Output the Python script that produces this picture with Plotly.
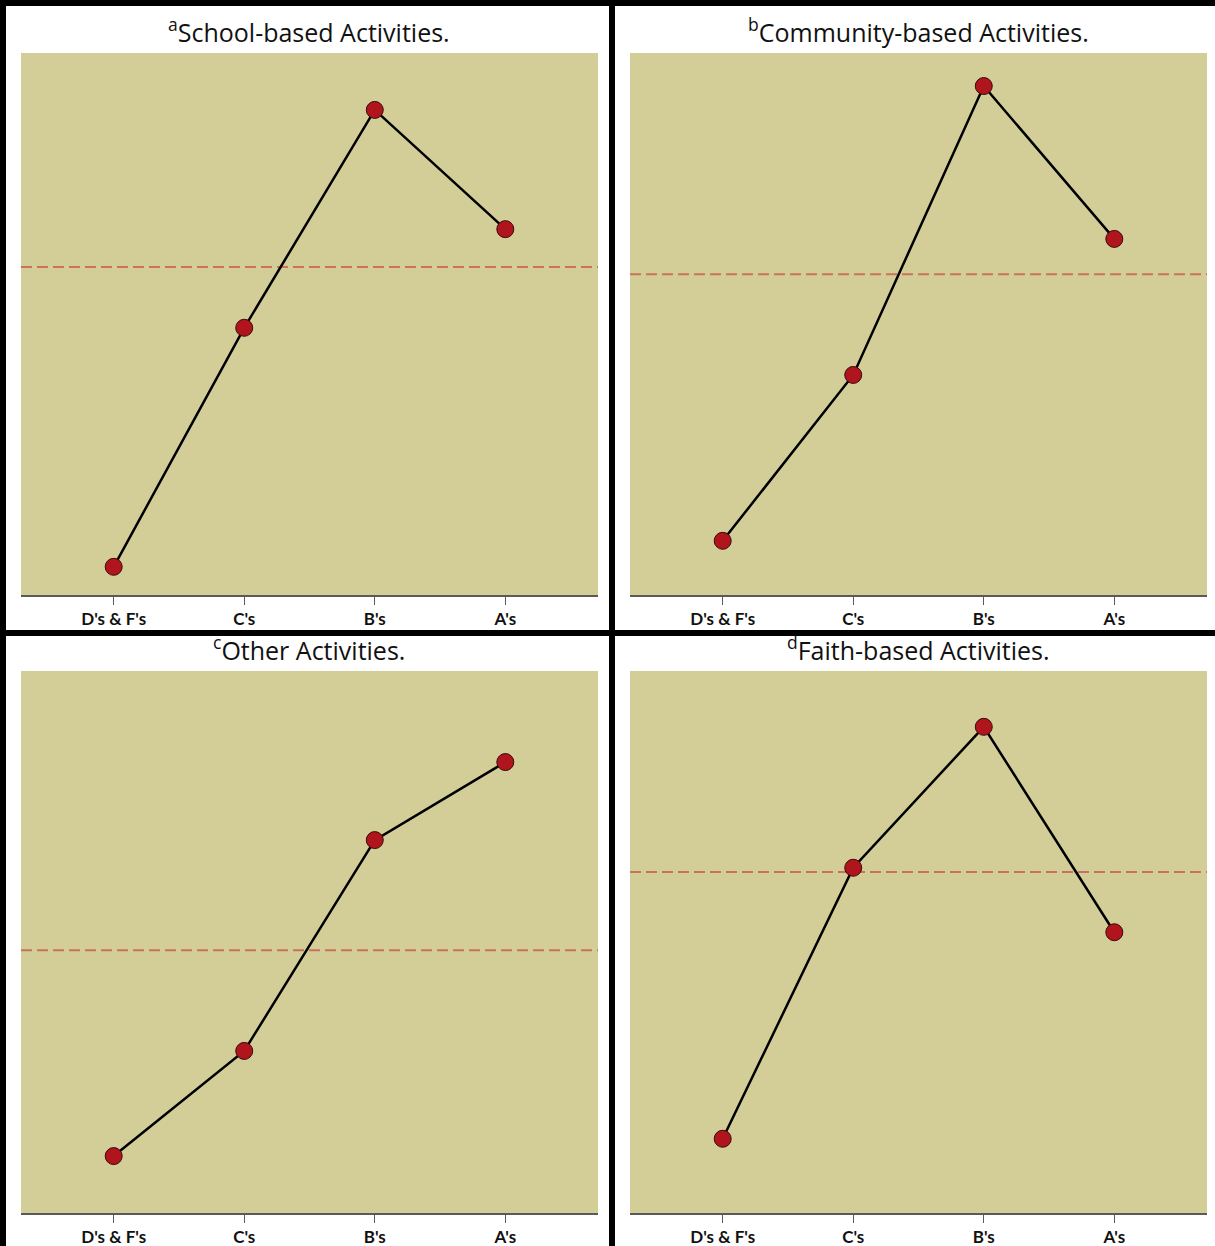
import plotly.graph_objects as go

W, H = 1215, 1246

categories = ["D's & F's", "C's", "B's", "A's"]
titles = ["<sup>a</sup>School-based Activities.",
          "<sup>b</sup>Community-based Activities.",
          "<sup>c</sup>Other Activities.",
          "<sup>d</sup>Faith-based Activities."]
school_vals = [5.2, 49.3, 89.5, 67.5]
community_vals = [10.0, 40.6, 93.9, 65.7]
other_vals = [10.5, 29.9, 68.8, 83.2]
faith_vals = [13.7, 63.7, 89.7, 51.8]
ref_lines = [60.5, 59.2, 48.5, 62.9]
series = [school_vals, community_vals, other_vals, faith_vals]

BG = "#D3CE98"
MARK = "#B0141C"
DASH = "#C9735C"

# panel pixel boxes (left, top, right, bottom)
boxes = [(21, 53, 598, 595), (630, 53, 1207, 595),
         (21, 671, 598, 1213), (630, 671, 1207, 1213)]

fig = go.Figure()
for i, (vals, box) in enumerate(zip(series, boxes)):
    n = i + 1
    xa = "x" if n == 1 else f"x{n}"
    ya = "y" if n == 1 else f"y{n}"
    fig.add_trace(go.Scatter(
        x=categories, y=vals, mode="lines+markers", xaxis=xa, yaxis=ya,
        line=dict(color="black", width=2.5),
        marker=dict(size=17, color=MARK, line=dict(color="#3a0a0a", width=1)),
        showlegend=False, hoverinfo="skip"))
    l, t, r, b = box
    xd = [l / W, r / W]
    yd = [1 - b / H, 1 - t / H]
    xkey = "xaxis" if n == 1 else f"xaxis{n}"
    ykey = "yaxis" if n == 1 else f"yaxis{n}"
    fig.update_layout(**{
        xkey: dict(domain=xd, anchor=ya, type="category", range=[-0.71, 3.71],
                   showgrid=False, zeroline=False, showline=True, linecolor="#5a5a5a",
                   linewidth=2, ticks="outside", ticklen=8, tickcolor="#5a5a5a", tickwidth=1,
                   tickfont=dict(family="Lato, Open Sans, sans-serif", size=17,
                                 color="#111", weight="bold"),
                   fixedrange=True),
        ykey: dict(domain=yd, anchor=xa, range=[0, 100], showgrid=False, zeroline=False,
                   showticklabels=False, showline=False, ticks="", fixedrange=True),
    })
    fig.add_shape(type="rect", xref=f"{xa} domain", yref=f"{ya} domain",
                  x0=0, x1=1, y0=0, y1=1, fillcolor=BG, line=dict(width=0), layer="below")
    fig.add_shape(type="line", xref=f"{xa} domain", yref=ya, x0=0, x1=1,
                  y0=ref_lines[i], y1=ref_lines[i],
                  line=dict(color=DASH, width=2, dash="11px,5px"), layer="below")
    fig.add_annotation(text=titles[i], xref="paper", yref="paper",
                       x=(l + r) / 2 / W, y=1 - (t - 23) / H,
                       xanchor="center", yanchor="middle", showarrow=False,
                       font=dict(family="Open Sans, Noto Sans, sans-serif", size=25, color="#111"))

# black borders
border_rects = [(0, 0, W, 6), (0, 0, 6, H), (609, 0, 615, H), (0, 630, W, 636)]
for x0, y0, x1, y1 in border_rects:
    fig.add_shape(type="rect", xref="paper", yref="paper",
                  x0=x0 / W, x1=x1 / W, y0=1 - y1 / H, y1=1 - y0 / H,
                  fillcolor="black", line=dict(width=0), layer="above")

fig.update_layout(width=W, height=H, margin=dict(l=0, r=0, t=0, b=0),
                  paper_bgcolor="white", plot_bgcolor="rgba(0,0,0,0)")
fig.write_html("out.html", config={"displayModeBar": False},
               post_script="document.body.style.margin='0';document.body.style.overflow='hidden';")
